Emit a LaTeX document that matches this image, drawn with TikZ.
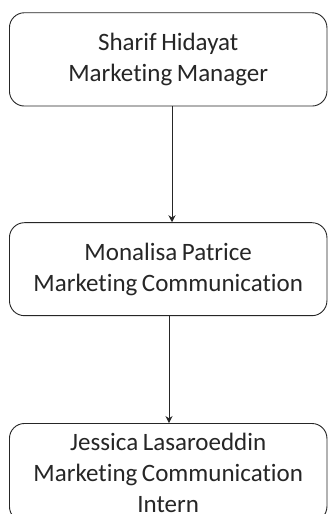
\documentclass[tikz,border=0pt]{standalone}
\usepackage{fontspec}
\setmainfont{Carlito}[Ligatures={NoCommon}]
\usetikzlibrary{arrows.meta}
\tikzset{
  orgbox/.style={draw=black!85, line width=0.9pt, rounded corners=15pt, fill=white,
    minimum width=317.5pt, text width=310pt, align=center, inner sep=0pt,
    font=\fontsize{25}{31}\selectfont, text=black!85,
    execute at begin node={\spaceskip=4.6pt\relax}},
  conn/.style={draw=black!85, line width=0.9pt, -{Stealth[length=7pt,width=7pt]}}
}
\begin{document}
\begin{tikzpicture}[x=1pt,y=1pt]
\useasboundingbox (0,0) rectangle (328,514);
\clip (0,0) rectangle (328,514);
\fill[white] (0,0) rectangle (328,514);
\node[orgbox, minimum height=93.3pt] (n1) at (168.2,454.6) {Sharif Hidayat\\Marketing Manager};
\node[orgbox, minimum height=93pt] (n2) at (168.2,244.8) {Monalisa Patrice\\Marketing Communication};
\node[orgbox, minimum height=98pt] (n3) at (168.2,41.5) {Jessica Lasaroeddin\\Marketing Communication\\Intern};
\draw[conn] ([xshift=3.8pt]n1.south) -- ([xshift=3.8pt]n2.north);
\draw[conn] ([xshift=0.8pt]n2.south) -- ([xshift=0.8pt]n3.north);
\end{tikzpicture}
\end{document}
